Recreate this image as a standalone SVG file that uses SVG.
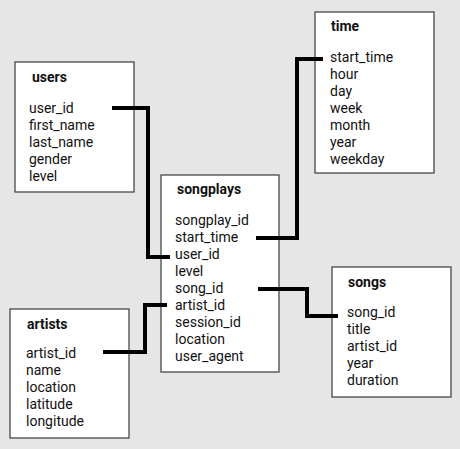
<svg xmlns="http://www.w3.org/2000/svg" width="460" height="449" viewBox="0 0 460 449">
<style>
.bg{fill:#e6e6e6}
.box{fill:#ffffff;stroke:#3a3a3a;stroke-width:1.2}
text{font-family:Roboto,"Liberation Sans",sans-serif;font-size:14px;fill:#111}
.t{font-weight:bold}
.c{fill:none;stroke:#000;stroke-width:4}
</style>
<rect class="bg" x="0" y="0" width="460" height="449"/>
<g id="users">
<rect class="box" x="15" y="62" width="119" height="130"/>
<text class="t" x="32" y="82">users</text>
<text x="29" y="113">user_id</text>
<text x="29" y="130">first_name</text>
<text x="29" y="147">last_name</text>
<text x="29" y="164">gender</text>
<text x="29" y="181">level</text>
</g>
<g id="songplays">
<rect class="box" x="161" y="175" width="118" height="197"/>
<text class="t" x="177" y="194">songplays</text>
<text x="175" y="225">songplay_id</text>
<text x="175" y="242">start_time</text>
<text x="175" y="259">user_id</text>
<text x="175" y="276">level</text>
<text x="175" y="293">song_id</text>
<text x="175" y="310">artist_id</text>
<text x="175" y="327">session_id</text>
<text x="175" y="344">location</text>
<text x="175" y="361">user_agent</text>
</g>
<g id="time">
<rect class="box" x="315" y="12" width="119" height="161"/>
<text class="t" x="331" y="31">time</text>
<text x="330" y="62">start_time</text>
<text x="330" y="79">hour</text>
<text x="330" y="96">day</text>
<text x="330" y="113">week</text>
<text x="330" y="130">month</text>
<text x="330" y="147">year</text>
<text x="330" y="164">weekday</text>
</g>
<g id="songs">
<rect class="box" x="332" y="267" width="119" height="130"/>
<text class="t" x="348" y="287">songs</text>
<text x="347" y="317">song_id</text>
<text x="347" y="334">title</text>
<text x="347" y="351">artist_id</text>
<text x="347" y="368">year</text>
<text x="347" y="385">duration</text>
</g>
<g id="artists">
<rect class="box" x="10" y="309" width="119" height="129"/>
<text class="t" x="27" y="329">artists</text>
<text x="26" y="358">artist_id</text>
<text x="26" y="375">name</text>
<text x="26" y="392">location</text>
<text x="26" y="409">latitude</text>
<text x="26" y="426">longitude</text>
</g>
<g id="connectors">
<polyline class="c" points="112,108 148,108 148,257 170,257"/>
<polyline class="c" points="256,238 297,238 297,59 323,59"/>
<polyline class="c" points="258,289 307,289 307,316 338,316"/>
<polyline class="c" points="103,352 145,352 145,305 167,305"/>
</g>
</svg>
